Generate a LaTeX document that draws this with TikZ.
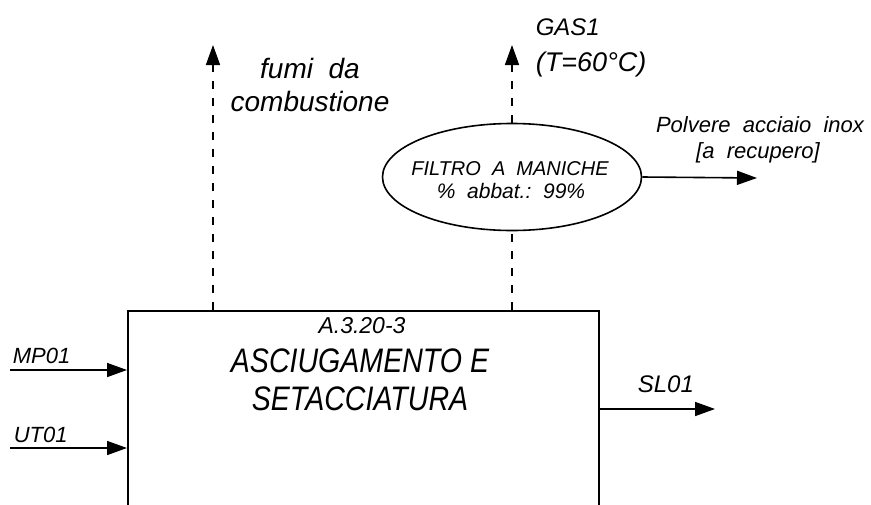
\documentclass[tikz,border=0pt]{standalone}
\usepackage{fontspec}
\setmainfont{Liberation Sans}
\newfontfamily\titlefont[FakeStretch=0.84]{Liberation Sans}
\usetikzlibrary{arrows.meta,shapes.geometric}
\begin{document}
\begin{tikzpicture}[x=1pt,y=-1pt,
  line width=1.6pt,
  flow/.style={-{Triangle[length=20pt,width=14pt]}},
  dflow/.style={dash pattern=on 8pt off 9pt},
  lbl/.style={font=\itshape\fontsize{22}{22}\selectfont, inner sep=0pt, anchor=base west},
  clbl/.style={font=\itshape\fontsize{22}{22}\selectfont, inner sep=0pt, anchor=base},
  ttl/.style={font=\titlefont\itshape\fontsize{34}{34}\selectfont, inner sep=0pt, anchor=base},
]
\useasboundingbox (0,0) rectangle (871,504);
\clip (0,0) rectangle (871,504);
% main block
\node[draw, minimum width=471pt, minimum height=240pt, anchor=north west, inner sep=0pt] (box) at (127,310) {};
\node[font=\itshape\fontsize{23}{23}\selectfont, inner sep=0pt, anchor=base] (code) at (362,333) {A.3.20-3};
\node[ttl] (t1) at (360,372) {ASCIUGAMENTO E};
\node[ttl] (t2) at (360,410) {SETACCIATURA};
% inputs
\coordinate (mpS) at (10,370);
\coordinate (utS) at (10,448);
\draw[flow] (mpS) -- (box.west |- mpS);
\draw[flow] (utS) -- (box.west |- utS);
\node[lbl] (mpL) at (12,363) {MP01};
\node[lbl] (utL) at (13,442) {UT01};
% output
\coordinate (slE) at (715,409);
\draw[flow] (box.east |- slE) -- (slE);
\node[lbl, font=\itshape\fontsize{24}{24}\selectfont] (slL) at (637,392) {SL01};
% fumi
\coordinate (fuE) at (213,45);
\draw[dflow] (box.north -| fuE) -- ([yshift=-18pt]fuE);
\draw[flow] ([yshift=-18pt]fuE) -- (fuE);
\node[font=\itshape\fontsize{28}{28}\selectfont, inner sep=0pt, anchor=base] (fu1) at (310,78) {fumi\ \ da};
\node[font=\itshape\fontsize{28}{28}\selectfont, inner sep=0pt, anchor=base] (fu2) at (310,111) {combustione};
% filter
\node[draw, ellipse, minimum width=259pt, minimum height=107pt, inner sep=0pt] (filt) at (512,177) {};
\node[clbl, font=\itshape\fontsize{20}{20}\selectfont] (f1) at (510,175) {FILTRO\ \ A\ \ MANICHE};
\node[clbl, font=\itshape\fontsize{21}{21}\selectfont] (f2) at (511,198) {\%\ \ abbat.:\ \ 99\%};
\draw[dflow] (box.north -| filt.south) -- (filt.south);
\coordinate (gaE) at (512,45);
\draw[dflow] (filt.north) -- ([yshift=-18pt]gaE);
\draw[flow] ([yshift=-18pt]gaE) -- (gaE);
\node[lbl, font=\itshape\fontsize{24}{24}\selectfont] (g1) at (535,35) {GAS1};
\node[lbl, font=\itshape\fontsize{27}{27}\selectfont] (g2) at (535,71) {(T=60°C)};
% dust
\coordinate (poE) at (757,178);
\draw[flow] (filt.east) -- (poE);
\node[clbl] (p1) at (760,132) {Polvere\ \ acciaio\ \ inox};
\node[clbl] (p2) at (758,158) {[a\ \ recupero]};
\end{tikzpicture}
\end{document}
